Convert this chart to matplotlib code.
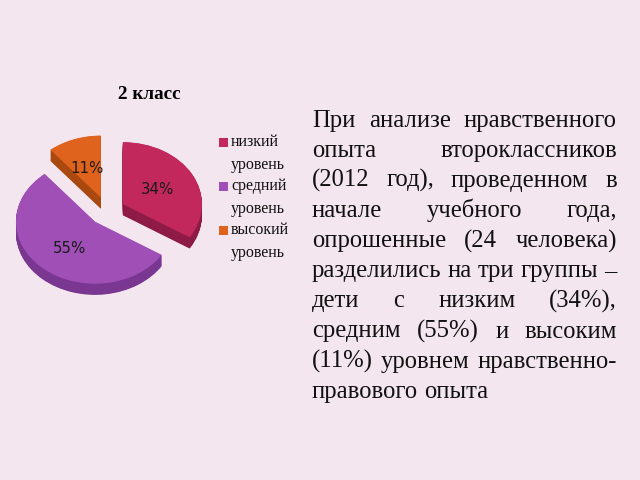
import matplotlib
matplotlib.use("Agg")
import matplotlib.pyplot as plt
from matplotlib.patches import Rectangle
import numpy as np

# ---- data ----
categories = ["низкий\nуровень", "средний\nуровень", "высокий\nуровень"]
values = [34, 55, 11]
title = "2 класс"
paragraph_lines = [
    "При анализе нравственного",
    "опыта второклассников",
    "(2012 год), проведенном в",
    "начале учебного года,",
    "опрошенные (24 человека)",
    "разделились на три группы –",
    "дети с низким (34%),",
    "средним (55%) и высоким",
    "(11%) уровнем нравственно-",
    "правового опыта",
]

# ---- style ----
BG = "#F3E6EE"
top_colors = ["#C2285B", "#A04FB6", "#E0631D"]
side_colors = ["#8E1B45", "#7A3791", "#A9480F"]
W, H = 640, 480
DPI = 100

fig = plt.figure(figsize=(W / DPI, H / DPI), dpi=DPI, facecolor=BG)

# pie axes in pixel geometry
cx, cy = 107, 211      # pixel centre (from top)
rx, ry = 79, 62        # pixel radii
span = 1.5
ax = fig.add_axes([(cx - span * rx) / W, (H - cy - span * ry) / H,
                   2 * span * rx / W, 2 * span * ry / H])
ax.set_facecolor("none")
ax.axis("off")

explode = [0.23, 0.23, 0.23]
depth = 0.18
nlayers = 24
for d in np.linspace(depth, 0.005, nlayers):
    ax.pie(values, colors=side_colors, startangle=90, counterclock=False,
           explode=explode, center=(0, -d), radius=1.0,
           wedgeprops=dict(linewidth=0))
wedges, texts, autotexts = ax.pie(
    values, colors=top_colors, startangle=90, counterclock=False,
    explode=explode, center=(0, 0), radius=1.0,
    autopct="%1.0f%%", pctdistance=0.5,
    textprops=dict(color="#1a1a1a", fontsize=10.8, family="DejaVu Sans"),
    wedgeprops=dict(linewidth=0))
# Excel-like placement for the large slice label
autotexts[1].set_position((-0.48, -0.61))
ax.set_aspect("auto")
ax.set_xlim(-span, span)
ax.set_ylim(-span, span)

# title
fig.text(149.5 / W, 1 - 99 / H, title, ha="center", va="baseline",
         fontsize=13.8, fontweight="bold", family="Liberation Serif")

# legend (square aligned with the first line of each entry)
leg_x, leg_y0, leg_step = 219, 138, 44
for i, (lab, col) in enumerate(zip(categories, top_colors)):
    y_top = leg_y0 + i * leg_step
    fig.patches.append(Rectangle((leg_x / W, 1 - (y_top + 8.5) / H),
                                 8.5 / W, 8.5 / H, transform=fig.transFigure,
                                 facecolor=col, edgecolor="none"))
    fig.text(231 / W, 1 - (y_top - 4) / H, lab, ha="left", va="top",
             fontsize=11.5, family="Liberation Serif", linespacing=1.55,
             color="#111111")

# justified paragraph
left_px, right_px = 312, 617
baseline0, step = 126.8, 30.1
fig.canvas.draw()
renderer = fig.canvas.get_renderer()
probe = fig.text(0, 0, paragraph_lines[5], fontsize=14.0,
                 family="Liberation Serif")
pw = probe.get_window_extent(renderer=renderer).width
probe.remove()
fs = 14.0 * (right_px - left_px) / pw

for i, line in enumerate(paragraph_lines):
    y = 1 - (baseline0 + i * step) / H
    words = line.split(" ")
    last = (i == len(paragraph_lines) - 1)
    objs = []
    widths = []
    for w in words:
        t = fig.text(0, y, w, fontsize=fs, family="Liberation Serif",
                     ha="left", va="baseline", color="#111111")
        bb = t.get_window_extent(renderer=renderer)
        objs.append(t)
        widths.append(bb.width)
    if last or len(words) == 1:
        space = fs * 0.25 * DPI / 72
    else:
        space = (right_px - left_px - sum(widths)) / (len(words) - 1)
    x = left_px
    for t, wd in zip(objs, widths):
        t.set_x(x / W)
        x += wd + space

fig.savefig("out.png", dpi=DPI, facecolor=BG)
